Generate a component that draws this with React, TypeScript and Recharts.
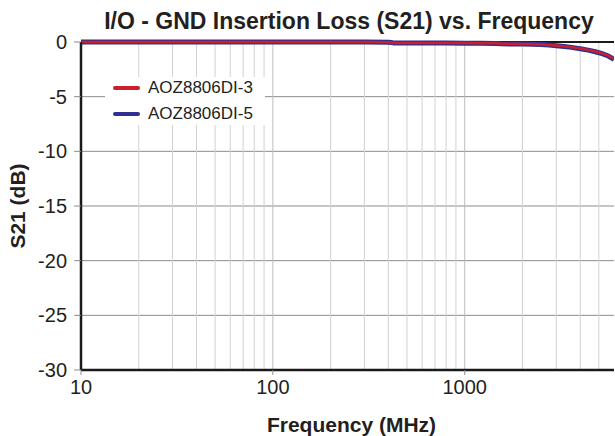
import { LineChart, Line, XAxis, YAxis, CartesianGrid, ReferenceLine, Legend } from 'recharts'

const freqMHz = [10, 20, 50, 100, 200, 300, 400, 415, 430, 600, 800, 1000, 1200, 1450, 1550, 1800, 2000, 2250, 2500, 2750, 3000, 3300, 3600, 4000, 4400, 4800, 5200, 5600, 6000]
const aoz8806di3 = [0, 0, 0, 0, -0.01, -0.01, -0.02, -0.05, -0.1, -0.1, -0.1, -0.1, -0.11, -0.12, -0.16, -0.17, -0.18, -0.19, -0.22, -0.27, -0.33, -0.4, -0.47, -0.6, -0.72, -0.87, -1.03, -1.25, -1.55]
const aoz8806di5 = [0, 0, 0, 0, -0.01, -0.01, -0.02, -0.05, -0.1, -0.1, -0.1, -0.11, -0.12, -0.13, -0.17, -0.18, -0.19, -0.2, -0.23, -0.28, -0.34, -0.41, -0.49, -0.62, -0.74, -0.89, -1.06, -1.28, -1.58]

const xTicks = [10, 100, 1000]
const yTicks = [0, -5, -10, -15, -20, -25, -30]
const minorFreqs = [20, 30, 40, 50, 60, 70, 80, 90, 200, 300, 400, 500, 600, 700, 800, 900, 2000, 3000, 4000, 5000]

const series = [
  { key: 'AOZ8806DI-5', color: '#2e3192', width: 5 },
  { key: 'AOZ8806DI-3', color: '#cc1f2d', width: 2.5 },
]

const data = freqMHz.map((f, i) => ({
  freq: f,
  'AOZ8806DI-3': aoz8806di3[i],
  'AOZ8806DI-5': aoz8806di5[i],
}))

const FONT = '"Liberation Sans", Arial, sans-serif'
const TEXT = '#231f20'

function LegendBox() {
  const items = [
    { name: 'AOZ8806DI-3', color: '#cc1f2d' },
    { name: 'AOZ8806DI-5', color: '#2e3192' },
  ]
  return (
    <div style={{ background: '#fff', width: 160, height: 48, position: 'relative', fontFamily: FONT }}>
      {items.map((it, i) => (
        <div key={it.name} style={{ position: 'absolute', left: 0, top: 1 + i * 26, height: 20, display: 'flex', alignItems: 'center' }}>
          <div style={{ marginLeft: 8, width: 27, height: 4, borderRadius: 2, background: it.color }} />
          <span style={{ marginLeft: 8, fontSize: 17, color: TEXT }}>{it.name}</span>
        </div>
      ))}
    </div>
  )
}

export default function App() {
  return (
    <div style={{ position: 'absolute', left: 0, top: 0, width: 615, height: 436, background: '#fff', fontFamily: FONT }}>
      <div style={{ position: 'absolute', left: 0, width: 698, top: 10, textAlign: 'center', fontSize: 23, lineHeight: '23px', fontWeight: 'bold', color: TEXT }}>
        I/O - GND Insertion Loss (S21) vs. Frequency
      </div>
      <LineChart width={615} height={436} data={data} margin={{ top: 42, right: 1, bottom: 0, left: 0 }}>
        <CartesianGrid vertical={false} stroke="#8c8c8c" strokeWidth={1} />
        {minorFreqs.map((f) => (
          <ReferenceLine key={f} x={f} stroke="#d2d2d2" strokeWidth={1} />
        ))}
        <ReferenceLine x={100} stroke="#bdbdbd" strokeWidth={1} />
        <ReferenceLine x={1000} stroke="#bdbdbd" strokeWidth={1} />
        <ReferenceLine y={0} stroke="#1a1a1a" strokeWidth={2} />
        <XAxis
          dataKey="freq"
          type="number"
          scale="log"
          domain={[10, 6000]}
          allowDataOverflow
          ticks={xTicks}
          height={66}
          axisLine={{ stroke: '#1a1a1a', strokeWidth: 2.5 }}
          tickLine={{ stroke: '#8c8c8c' }}
          tickSize={5}
          tickMargin={5}
          tick={{ fill: TEXT, fontSize: 20, fontFamily: FONT }}
          label={{ value: 'Frequency (MHz)', position: 'insideBottom', offset: 4, dx: 4, fill: TEXT, fontSize: 21, fontWeight: 'bold', fontFamily: FONT }}
        />
        <YAxis
          type="number"
          domain={[-30, 0]}
          ticks={yTicks}
          width={81}
          axisLine={{ stroke: '#1a1a1a', strokeWidth: 2.5 }}
          tickLine={{ stroke: '#8c8c8c' }}
          tickSize={7}
          tickMargin={7}
          tick={{ fill: TEXT, fontSize: 20, fontFamily: FONT }}
          label={{
            content: () => (
              <text x={25} y={206} transform="rotate(-90 25 206)" textAnchor="middle" fill={TEXT} fontSize={21} fontWeight="bold" fontFamily={FONT}>
                S21 (dB)
              </text>
            ),
          }}
        />
        <Legend
          layout="horizontal"
          align="center"
          verticalAlign="middle"
          wrapperStyle={{ left: 105, top: 77, width: 160, height: 48 }}
          content={() => <LegendBox />}
        />
        {series.map((s) => (
          <Line
            key={s.key}
            type="linear"
            dataKey={s.key}
            stroke={s.color}
            strokeWidth={s.width}
            dot={false}
            isAnimationActive={false}
          />
        ))}
      </LineChart>
    </div>
  )
}
